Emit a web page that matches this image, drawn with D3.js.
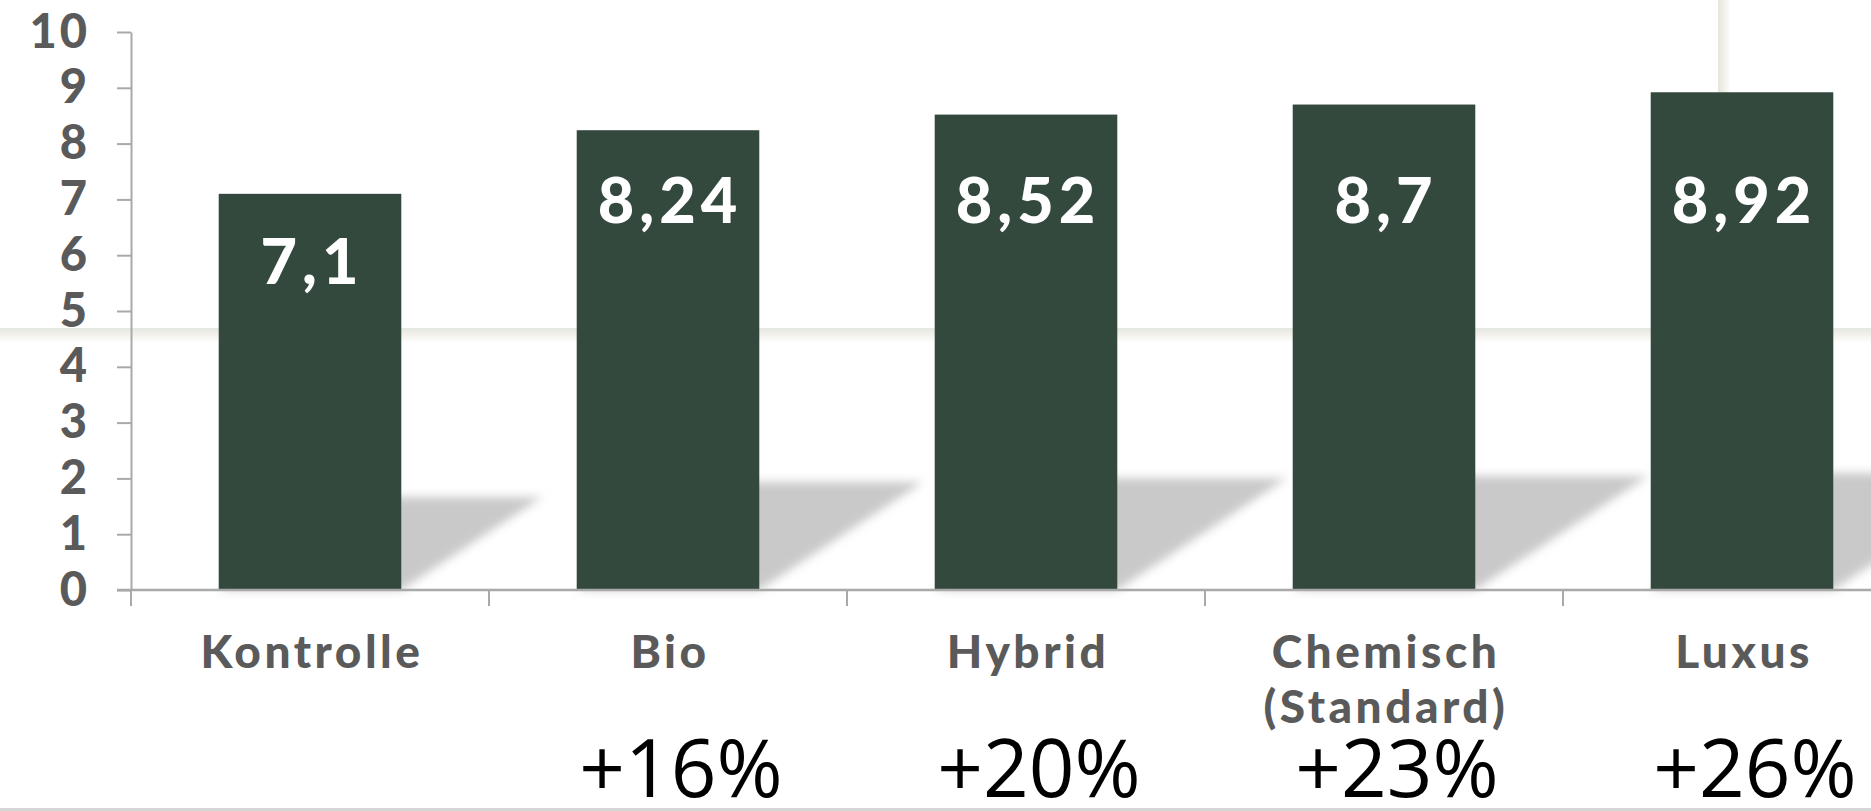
<!DOCTYPE html>
<html>
<head>
<meta charset="utf-8">
<script src="https://cdn.jsdelivr.net/npm/d3@7"></script>
<style>
  html, body { margin: 0; padding: 0; background: #fff; overflow: hidden; }
</style>
</head>
<body>
<div id="container"></div>
<script>
// data
const categories = ["Kontrolle", "Bio", "Hybrid", "Chemisch\n(Standard)", "Luxus"];
const values = [7.1, 8.24, 8.52, 8.7, 8.92];
const valueLabels = ["7,1", "8,24", "8,52", "8,7", "8,92"];
const gainLabels = ["", "+16%", "+20%", "+23%", "+26%"];
const yTicks = [0, 1, 2, 3, 4, 5, 6, 7, 8, 9, 10];

const width = 1871
const height = 811
const barcolor = "#34493e"
const axiscolor = "#a9a9a9"
const textcolor = "#5a5a5a"
const labelfont = "Lato, 'DejaVu Sans', sans-serif"

const svg = d3.select("#container").append("svg")
  .attr("width", width).attr("height", height)

const defs = svg.append("defs")

const blur = defs.append("filter").attr("id", "blur")
  .attr("x", "-20%").attr("y", "-20%").attr("width", "140%").attr("height", "140%")
blur.append("feGaussianBlur").attr("stdDeviation", 5)

const bandGrad = defs.append("linearGradient").attr("id", "bandGrad")
  .attr("x1", 0).attr("y1", 0).attr("x2", 0).attr("y2", 1)
bandGrad.append("stop").attr("offset", 0).attr("stop-color", "#e3e9e3")
bandGrad.append("stop").attr("offset", 0.3).attr("stop-color", "#eeede6")
bandGrad.append("stop").attr("offset", 1).attr("stop-color", "#ffffff")

const vGrad = defs.append("linearGradient").attr("id", "vGrad")
  .attr("x1", 0).attr("y1", 0).attr("x2", 1).attr("y2", 0)
vGrad.append("stop").attr("offset", 0).attr("stop-color", "#e6e6de")
vGrad.append("stop").attr("offset", 0.4).attr("stop-color", "#efeee8")
vGrad.append("stop").attr("offset", 1).attr("stop-color", "#ffffff")

// slide background decoration
svg.append("rect").attr("x", 0).attr("y", 328).attr("width", width).attr("height", 15)
  .attr("fill", "url(#bandGrad)")
svg.append("rect").attr("x", 1718).attr("y", 0).attr("width", 13).attr("height", 200)
  .attr("fill", "url(#vGrad)")
svg.append("rect").attr("x", 0).attr("y", 808).attr("width", width).attr("height", 3)
  .attr("fill", "#d6d6d6")

// scales
const x = d3.scaleBand().domain(categories)
  .range([131, 1921]).paddingInner(0.49).paddingOuter(0.245)
const y = d3.scaleLinear().domain([0, 10]).range([590, 32])

const rows = categories.map((c, i) => ({ cat: c, v: values[i], lab: valueLabels[i], gain: gainLabels[i] }))

// shadows behind bars
svg.append("g").attr("filter", "url(#blur)")
  .selectAll("polygon").data(rows).enter().append("polygon")
  .attr("points", d => {
    const h = y(0) - y(d.v)
    const l = x(d.cat), r = x(d.cat) + x.bandwidth(), b = y(0)
    const dx = h * 0.356, dy = h * 0.235
    return [[l, b], [r, b], [r + dx, b - dy], [l + dx, b - dy]].map(p => p.join(",")).join(" ")
  })
  .attr("fill", "#c9c9c9")

// bars
svg.selectAll(".bar").data(rows).enter().append("rect")
  .attr("class", "bar")
  .attr("x", d => x(d.cat))
  .attr("y", d => y(d.v))
  .attr("width", x.bandwidth())
  .attr("height", d => y(0) - y(d.v))
  .attr("fill", barcolor)

// y axis
const yAxis = svg.append("g").attr("transform", "translate(131,0)")
  .call(d3.axisLeft(y).tickValues(yTicks).tickSizeInner(14).tickSizeOuter(0).tickPadding(27))
yAxis.selectAll("path, line").attr("stroke", axiscolor).attr("stroke-width", 2)
yAxis.selectAll("text")
  .attr("fill", textcolor)
  .style("font-family", labelfont).style("font-weight", 900).style("font-size", "47px")
  .style("letter-spacing", "3px")

// x axis line and boundary ticks
svg.append("line").attr("x1", 117).attr("x2", width).attr("y1", y(0)).attr("y2", y(0))
  .attr("stroke", axiscolor).attr("stroke-width", 2.5)
svg.selectAll(".xtick").data(categories).enter().append("line")
  .attr("class", "xtick")
  .attr("x1", d => x(d) - x.step() * x.paddingInner() / 2)
  .attr("x2", d => x(d) - x.step() * x.paddingInner() / 2)
  .attr("y1", y(0)).attr("y2", y(0) + 16)
  .attr("stroke", axiscolor).attr("stroke-width", 2)

// category labels
const catText = svg.selectAll(".cat").data(rows).enter().append("text")
  .attr("class", "cat")
  .attr("text-anchor", "middle")
  .attr("fill", textcolor)
  .style("font-family", labelfont).style("font-weight", 900).style("font-size", "46px")
  .style("letter-spacing", "3.5px")
catText.selectAll("tspan").data(d => d.cat.split("\n").map(t => ({ t, cx: x(d.cat) + x.bandwidth() / 2 + 2 })))
  .enter().append("tspan")
  .attr("x", d => d.cx)
  .attr("y", (d, i) => 668 + i * 55)
  .text(d => d.t)

// value labels inside bars
svg.selectAll(".val").data(rows).enter().append("text")
  .attr("class", "val")
  .attr("x", d => x(d.cat) + x.bandwidth() / 2 + 2)
  .attr("y", d => Math.max(y(d.v) + 90, 223))
  .attr("text-anchor", "middle")
  .attr("fill", "#ffffff")
  .style("font-family", labelfont).style("font-weight", 900).style("font-size", "63px")
  .style("letter-spacing", "5px")
  .text(d => d.lab)

// gain labels
svg.selectAll(".gain").data(rows.filter(d => d.gain)).enter().append("text")
  .attr("class", "gain")
  .attr("x", d => x(d.cat) + x.bandwidth() / 2 + 13)
  .attr("y", 797)
  .attr("text-anchor", "middle")
  .attr("fill", "#000000")
  .style("font-family", "'Open Sans', sans-serif").style("font-size", "80px")
  .text(d => d.gain)
</script>
</body>
</html>
